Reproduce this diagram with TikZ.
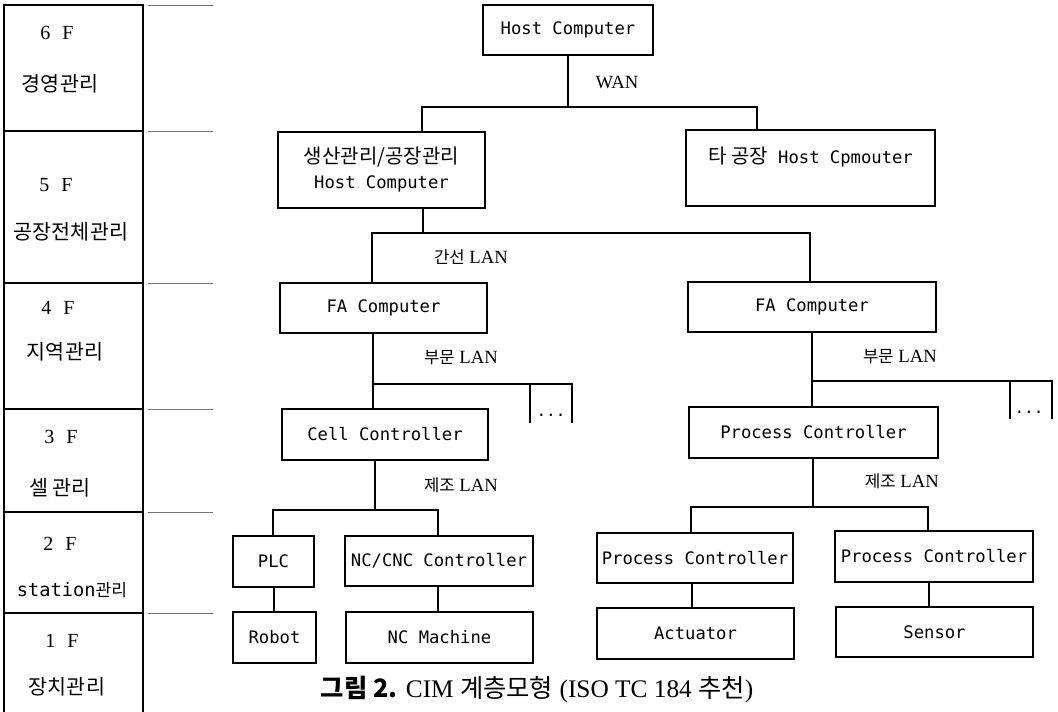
\documentclass[tikz,border=0pt]{standalone}
\usepackage{fontspec}
\setmainfont{Liberation Serif}
\newfontfamily\krfont{Noto Sans CJK KR}
\newfontfamily\monofont{DejaVu Sans Mono}
\newcommand\KoBox[1]{{\krfont\fontsize{15}{18}\selectfont #1}}
\newcommand\KoLab[1]{{\krfont\fontsize{12.5}{14}\selectfont #1}}
\newcommand\KoSide[1]{{\krfont\fontsize{15.5}{18}\selectfont #1}}
\newcommand\KoCap[1]{{\krfont\fontsize{19}{22}\selectfont #1}}
\begin{document}
\begin{tikzpicture}[x=0.75pt,y=-0.75pt,line width=0.8pt,
  box/.style={draw, inner sep=0pt, outer sep=0pt, align=center,
    font=\monofont\fontsize{12.9}{18.75}\selectfont},
  wh/.style 2 args={minimum width=#1*0.75pt, minimum height=#2*0.75pt},
  side/.style={inner sep=0pt, font=\fontsize{15}{17}\selectfont},
  sidek/.style={inner sep=0pt},
  lanlab/.style={inner sep=0pt, font=\fontsize{14}{16}\selectfont},
  sep/.style={draw=black!55, line width=0.6pt},
  dots/.style={inner sep=0pt, anchor=base, font=\monofont\fontsize{12}{14}\selectfont}]
\path[use as bounding box] (0,0) rectangle (1058,712);

% ---------- left level column ----------
\coordinate (cTL) at (4,5);
\coordinate (cTR) at (143,5);
\coordinate (cBL) at (4,712);
\coordinate (cBR) at (143,712);
\draw (cBL) -- (cTL) -- (cTR) -- (cBR);
\foreach \yy/\nm in {131/a,283/b,409/c,512/d,613/e}{
  \coordinate (rl\nm) at (4,\yy);
  \coordinate (rr\nm) at (143,\yy);
  \draw (rl\nm) -- (rr\nm);
}
\foreach \yy/\nm in {5/t,131/a,283/b,409/c,512/d,613/e}{
  \coordinate (sl\nm) at (148,\yy);
  \coordinate (sr\nm) at (213,\yy);
  \draw[sep] (sl\nm) -- (sr\nm);
}
\node[side] (f6) at (57,33) {6\hspace{0.6em}F};
\node[sidek] (l6) at (60,84) {\KoSide{경영관리}};
\node[side] (f5) at (56,185) {5\hspace{0.6em}F};
\node[sidek] (l5) at (71,232) {\KoSide{공장전체관리}};
\node[side] (f4) at (58,308) {4\hspace{0.6em}F};
\node[sidek] (l4) at (65,352) {\KoSide{지역관리}};
\node[side] (f3) at (61,437) {3\hspace{0.6em}F};
\node[sidek] (l3) at (60,488) {\KoSide{셀 관리}};
\node[side] (f2) at (60,544) {2\hspace{0.6em}F};
\node[sidek] (l2) at (72,590) {{\monofont\fontsize{14}{16}\selectfont station}{\krfont\fontsize{12.8}{15}\selectfont 관리}};
\node[side] (f1) at (62,641) {1\hspace{0.6em}F};
\node[sidek] (l1) at (67,687) {\KoSide{장치관리}};

% ---------- boxes ----------
\node[box, wh={170}{50}] (host) at (568,30) {Host Computer};
\node[box, wh={207}{76}] (prod) at (381.5,170) {\KoBox{생산관리/공장관리}\\Host Computer};
\node[box, wh={249}{76}] (other) at (810.5,168) {\KoBox{타 공장} Host Cpmouter\\\mbox{}};
\node[box, wh={207}{50}] (faL) at (383.5,308) {FA Computer};
\node[box, wh={248}{50}] (faR) at (812,307) {FA Computer};
\node[box, wh={206}{51}] (cell) at (385,434.5) {Cell Controller};
\node[box, wh={249}{51}] (procR) at (813.5,432.5) {Process Controller};
\node[box, wh={81}{51}] (plc) at (273.5,561.5) {PLC};
\node[box, wh={188}{50}] (nc) at (439,561) {NC/CNC Controller};
\node[box, wh={83}{51}] (robot) at (274.5,637.5) {Robot};
\node[box, wh={187}{51}] (ncm) at (439.5,637.5) {NC Machine};
\node[box, wh={196}{50}] (pcL) at (695,558) {Process Controller};
\node[box, wh={198}{51}] (pcR) at (934,556.5) {Process Controller};
\node[box, wh={197}{51}] (act) at (695.5,633.5) {Actuator};
\node[box, wh={197}{50}] (sens) at (934.5,632) {Sensor};

% ---------- WAN ----------
\coordinate (w1) at (422,107);
\coordinate (w2) at (757,107);
\draw (host.south) -- (host.south |- w1);
\draw (prod.north -| w1) -- (w1) -- (w2) -- (other.north -| w2);
\node[lanlab] (wan) at (617,82) {WAN};

% ---------- backbone LAN ----------
\coordinate (g0) at (423,233);
\coordinate (g1) at (372,233);
\coordinate (g2) at (810,233);
\draw (prod.south -| g0) -- (g0);
\draw (faL.north -| g1) -- (g1) -- (g2) -- (faR.north -| g2);
\node[lanlab] (ganseon) at (471,257) {\KoLab{간선} LAN};

% ---------- department LAN left ----------
\coordinate (dL0) at (373,384);
\coordinate (dL1) at (530,384);
\coordinate (dL2) at (572,384);
\coordinate (dL1b) at (530,423);
\coordinate (dL2b) at (572,423);
\draw (faL.south -| dL0) -- (cell.north -| dL0);
\draw (dL0) -- (dL2) -- (dL2b);
\draw (dL1) -- (dL1b);
\node[dots] (dotsL) at (551,417) {...};
\node[lanlab] (bumunL) at (461,358) {\KoLab{부문} LAN};

% ---------- department LAN right ----------
\coordinate (dR0) at (812,381);
\coordinate (dR1) at (1010,381);
\coordinate (dR2) at (1052,381);
\coordinate (dR1b) at (1010,419);
\coordinate (dR2b) at (1052,419);
\draw (faR.south -| dR0) -- (procR.north -| dR0);
\draw (dR0) -- (dR2) -- (dR2b);
\draw (dR1) -- (dR1b);
\node[dots] (dotsR) at (1029,414) {...};
\node[lanlab] (bumunR) at (900,357) {\KoLab{부문} LAN};

% ---------- manufacturing LAN left ----------
\coordinate (mL0) at (375,510);
\coordinate (mL1) at (273,510);
\coordinate (mL2) at (438,510);
\draw (cell.south -| mL0) -- (mL0);
\draw (plc.north -| mL1) -- (mL1) -- (mL2) -- (nc.north -| mL2);
\node[lanlab] (jejoL) at (461,485) {\KoLab{제조} LAN};
\coordinate (pr) at (274,600);
\coordinate (nm) at (438,600);
\draw (plc.south -| pr) -- (robot.north -| pr);
\draw (nc.south -| nm) -- (ncm.north -| nm);

% ---------- manufacturing LAN right ----------
\coordinate (mR0) at (813,507);
\coordinate (mR1) at (691,507);
\coordinate (mR2) at (928,507);
\draw (procR.south -| mR0) -- (mR0);
\draw (pcL.north -| mR1) -- (mR1) -- (mR2) -- (pcR.north -| mR2);
\node[lanlab] (jejoR) at (902,481) {\KoLab{제조} LAN};
\coordinate (pa) at (692,595);
\coordinate (ps) at (929,595);
\draw (pcL.south -| pa) -- (act.north -| pa);
\draw (pcR.south -| ps) -- (sens.north -| ps);

% ---------- caption ----------
\node[inner sep=0pt, font=\fontsize{19}{22}\selectfont] (cap) at (537,690)
  {{\krfont\bfseries\fontsize{19}{22}\selectfont 그림 2.} CIM \KoCap{계층모형} (ISO TC 184 \KoCap{추천})};
\end{tikzpicture}
\end{document}
